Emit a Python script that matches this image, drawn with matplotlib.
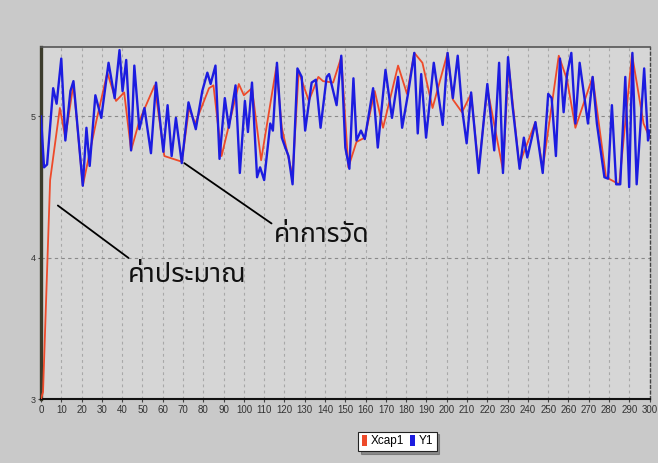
import matplotlib
matplotlib.use('Agg')
import matplotlib.pyplot as plt
from matplotlib.patches import Patch

# Y1 (measured) series, traced vertices
y1_x = [0, 1.5, 3, 6, 7.7, 10, 12, 14.5, 16, 20.6, 22.4, 24, 26.8, 29.7,
        33.3, 36.3, 38.7, 40.2, 42, 44.4, 46, 48.5, 51, 54.2, 56.7, 60.3,
        62.4, 64.4, 66.5, 69.4, 72.7, 76.3, 79.5, 82, 83.6, 86, 88, 90.6,
        92.6, 95.9, 98, 100.5, 102, 104, 106.5, 108, 110, 113, 114.3,
        116.3, 118.7, 120.4, 122, 124, 126.4, 128.5, 130.2, 133.4, 135.5,
        137.8, 140.8, 142, 145.7, 148, 150, 152, 154, 155.5, 157.7, 159.6,
        163.7, 166, 169.8, 173, 176, 178, 180.9, 184, 185.7, 187.4, 189.8,
        193.6, 198, 200.4, 203, 205.4, 207.5, 209.8, 212, 215.7, 220,
        223.4, 225.8, 227.7, 230.2, 232.3, 235.9, 238, 239.7, 243.7, 247.3,
        250, 251.7, 253.8, 255.8, 257.6, 259.3, 261.4, 263.4, 265.5, 269.6,
        271.9, 274, 277.7, 279.5, 281.4, 283.5, 285.5, 288, 289.9, 291.5,
        293.6, 297.3, 299.2, 300]
y1_v = [5.0, 4.64, 4.66, 5.2, 5.09, 5.41, 4.83, 5.18, 5.25, 4.51, 4.92,
        4.65, 5.15, 4.99, 5.38, 5.13, 5.47, 5.18, 5.40, 4.76, 5.36, 4.91,
        5.06, 4.74, 5.24, 4.75, 5.08, 4.72, 4.99, 4.67, 5.1, 4.91, 5.18,
        5.31, 5.23, 5.36, 4.70, 5.13, 4.92, 5.22, 4.60, 5.11, 4.89, 5.24,
        4.57, 4.64, 4.55, 4.95, 4.9, 5.38, 4.85, 4.78, 4.72, 4.52, 5.34,
        5.28, 4.9, 5.24, 5.26, 4.92, 5.28, 5.30, 5.08, 5.43, 4.78, 4.63,
        5.27, 4.83, 4.90, 4.84, 5.2, 4.78, 5.33, 4.99, 5.28, 4.92, 5.16,
        5.45, 4.88, 5.3, 4.85, 5.38, 4.94, 5.45, 5.13, 5.43, 5.06, 4.81,
        5.17, 4.6, 5.23, 4.76, 5.38, 4.60, 5.42, 5.09, 4.63, 4.85, 4.71,
        4.96, 4.6, 5.16, 5.13, 4.72, 5.41, 5.03, 5.3, 5.45, 4.95, 5.38,
        4.95, 5.28, 4.95, 4.57, 4.56, 5.08, 4.52, 4.52, 5.28, 4.50, 5.45,
        4.52, 5.34, 4.83, 4.9]

# Xcap1 (estimate) series
xcap_x = [0, 1, 4.5, 9.3, 12, 16, 20.6, 27.3, 32.7, 37, 41, 44.4, 48.5,
          56, 60.8, 69.4, 73, 76, 82.8, 85, 89, 97.5, 100, 104, 108.5, 116,
          118.7, 124, 127, 132, 136.7, 139, 144, 148, 151.5, 155.5, 159.6,
          164.5, 168.6, 176, 180.4, 184, 188, 193, 200.4, 203, 207.5, 212,
          215.7, 220, 227.7, 230.5, 235.7, 243.7, 247.3, 255.2, 259.3,
          263.4, 271.9, 278.5, 285, 291.3, 297, 300]
xcap_v = [3.0, 3.05, 4.55, 5.06, 4.85, 5.23, 4.51, 4.97, 5.31, 5.11, 5.17,
          4.76, 4.97, 5.22, 4.72, 4.68, 5.06, 4.95, 5.2, 5.22, 4.72, 5.23,
          5.15, 5.2, 4.69, 5.35, 4.92, 4.58, 5.32, 5.11, 5.28, 5.25, 5.24,
          5.42, 4.64, 4.82, 4.85, 5.18, 4.92, 5.36, 5.16, 5.45, 5.38, 5.06,
          5.45, 5.12, 5.03, 5.16, 4.63, 5.2, 4.62, 5.37, 4.66, 4.96, 4.63,
          5.43, 5.26, 4.92, 5.28, 4.57, 4.52, 5.44, 4.95, 4.85]

x_ticks = list(range(0, 301, 10))
y_ticks = [3, 4, 5]

THAI = ['Noto Sans Thai', 'Noto Sans Thai UI', 'Loma', 'Garuda',
        'Tlwg Typo', 'Norasi', 'DejaVu Sans']
TICKF = ['Liberation Sans Narrow', 'Liberation Sans', 'DejaVu Sans']

fig = plt.figure(figsize=(6.58, 4.63), dpi=100, facecolor='#c9c9c9')
ax = fig.add_axes([0.0623, 0.138, 0.925, 0.760])
ax.set_facecolor('#d6d6d6')

ax.plot(xcap_x, xcap_v, color='#ee4a2a', lw=1.3, zorder=3)
ax.plot(y1_x, y1_v, color='#1c1ce0', lw=1.7, zorder=4)

ax.set_xlim(0, 300)
ax.set_ylim(3, 5.49)
ax.set_xticks(x_ticks)
ax.set_yticks(y_ticks)
ax.set_xticklabels([str(t) for t in x_ticks], fontsize=7.0, color='#333333',
                   family=TICKF)
ax.set_yticklabels([str(t) for t in y_ticks], fontsize=6.5, color='#333333',
                   family=TICKF)
ax.tick_params(axis='both', length=2.5, width=0.8, color='#444444', pad=1.5)

for xv in x_ticks[1:-1]:
    ax.axvline(xv, color='#a8a8a8', lw=0.8, ls=(0, (2.5, 3)), zorder=1)
for yv in [4, 5]:
    ax.axhline(yv, color='#8a8a8a', lw=0.8, ls=(0, (3, 3)), zorder=1)

ax.spines['left'].set_color('#3c3c2c')
ax.spines['left'].set_linewidth(2.4)
ax.spines['bottom'].set_color('#111111')
ax.spines['bottom'].set_linewidth(1.5)
ax.spines['top'].set_color('#555555')
ax.spines['top'].set_linewidth(1.2)
ax.spines['right'].set_color('#444444')
ax.spines['right'].set_linewidth(1.0)
ax.spines['right'].set_linestyle((0, (2, 2)))

# callouts
ax.annotate('ค่าการวัด', xy=(70.6, 4.67), xytext=(115, 4.16),
            fontsize=19, family=THAI, color='#111111', ha='left', va='center',
            arrowprops=dict(arrowstyle='-', color='black', lw=1.3,
                            shrinkA=0, shrinkB=0, relpos=(0, 0.85)))
ax.annotate('ค่าประมาณ', xy=(8.3, 4.37), xytext=(43, 3.88),
            fontsize=19.5, family=THAI, color='#111111', ha='left', va='center',
            arrowprops=dict(arrowstyle='-', color='black', lw=1.3,
                            shrinkA=0, shrinkB=0, relpos=(0.05, 0.95)))

handles = [Patch(facecolor='#ee4a2a', label='Xcap1'),
           Patch(facecolor='#1c1ce0', label='Y1')]
leg = fig.legend(handles=handles, loc='center', bbox_to_anchor=(0.604, 0.047),
                 ncol=2, fontsize=8.5, frameon=True, fancybox=False,
                 shadow=True, handlelength=0.45, handleheight=1.0,
                 handletextpad=0.3, columnspacing=0.5, borderpad=0.3,
                 borderaxespad=0)
leg.get_frame().set_edgecolor('#222222')
leg.get_frame().set_linewidth(0.8)
for t in leg.get_texts():
    t.set_family(TICKF)

fig.savefig('out.png', dpi=100, facecolor=fig.get_facecolor())
